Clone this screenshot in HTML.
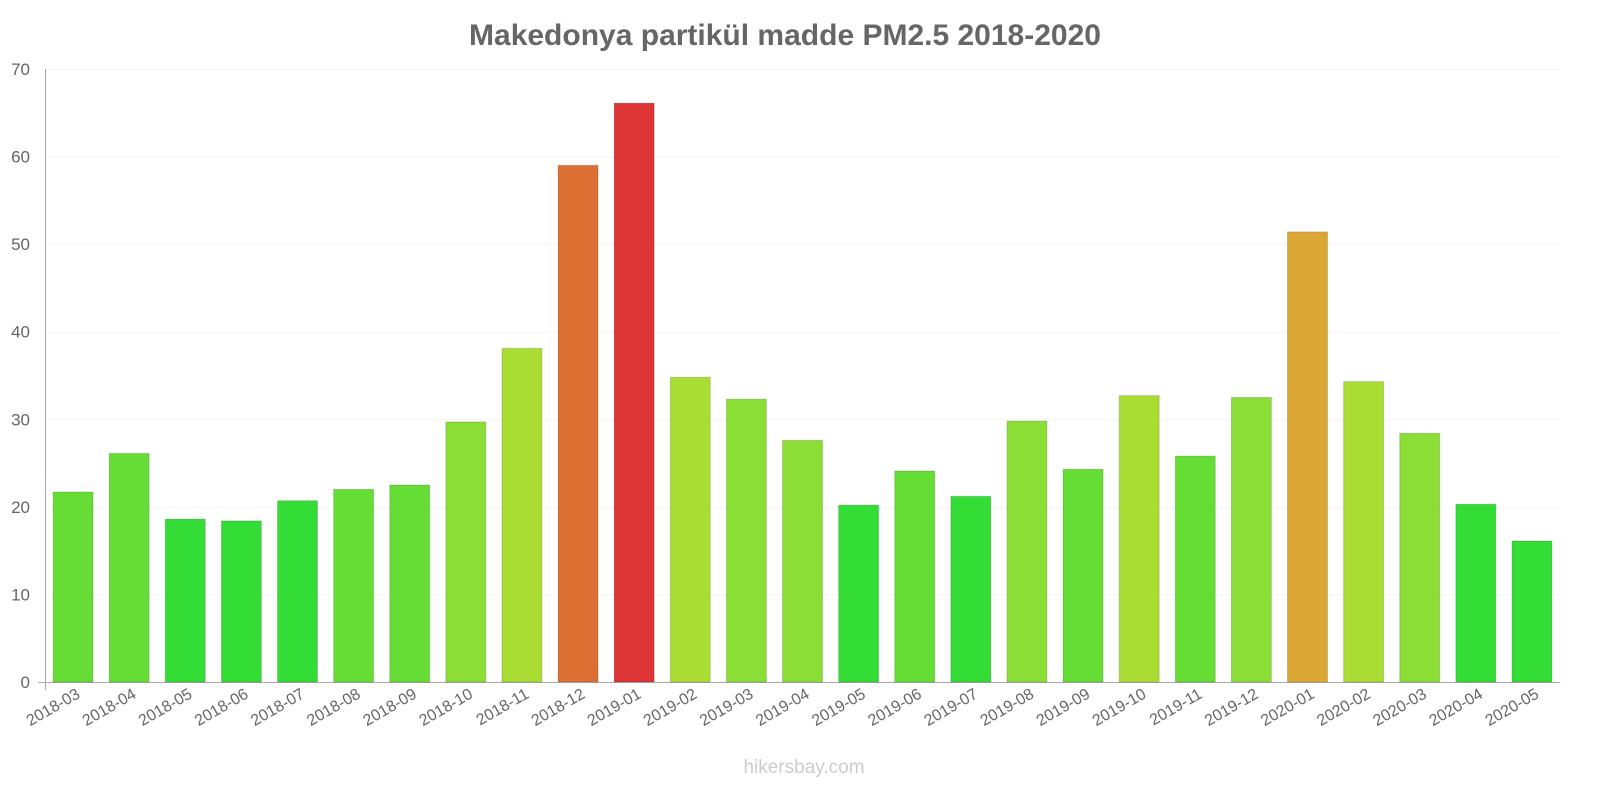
<!DOCTYPE html>
<html><head><meta charset="utf-8"><style>
body{margin:0;background:#fff;}
svg text{font-family:"Liberation Sans",sans-serif;}
</style></head><body>
<svg width="1600" height="800" xmlns="http://www.w3.org/2000/svg" id="c">
<text x="785" y="45" text-anchor="middle" font-size="30" font-weight="bold" fill="#666">Makedonya partikül madde PM2.5 2018-2020</text>
<line x1="45.5" y1="69" x2="45.5" y2="690" stroke="#aaa"/>
<line x1="38" y1="682.5" x2="1560" y2="682.5" stroke="#aaa"/>
<text x="804" y="773" text-anchor="middle" font-size="19" fill="#ccc">hikersbay.com</text>
</svg>
<script>
var ns="http://www.w3.org/2000/svg",svg=document.getElementById('c');
function el(t,a,txt){var e=document.createElementNS(ns,t);for(var k in a)e.setAttribute(k,a[k]);if(txt!=null)e.textContent=txt;svg.appendChild(e);return e;}
var y0=682,s=613/70;
for(var v=0;v<=70;v+=10){var y=y0-v*s;if(v>0)el('line',{x1:46,x2:1560,y1:y+.5,y2:y+.5,stroke:'#f3f3f3'});el('text',{x:30,y:y+6,'text-anchor':'end','font-size':17,fill:'#666'},v);}
var L=["2018-03","2018-04","2018-05","2018-06","2018-07","2018-08","2018-09","2018-10","2018-11","2018-12","2019-01","2019-02","2019-03","2019-04","2019-05","2019-06","2019-07","2019-08","2019-09","2019-10","2019-11","2019-12","2020-01","2020-02","2020-03","2020-04","2020-05"];
var V=[21.7,26.1,18.6,18.4,20.7,22.0,22.5,29.7,38.1,59.0,66.1,34.8,32.3,27.6,20.2,24.1,21.2,29.8,24.3,32.7,25.8,32.5,51.4,34.3,28.4,20.3,16.1];
function col(v){if(v>60)return'#dd3535';if(v>55)return'#dc7033';if(v>45)return'#dca835';if(v>32.6)return'#aadd33';if(v>27)return'#8ade35';if(v>21.5)return'#66dd35';return'#33dd35';}
var step=(1560-45)/27;
for(var i=0;i<27;i++){var cx=45+step*(i+0.5),h=V[i]*s,c=col(V[i]);
el('rect',{x:cx-20,y:y0-h,width:40,height:h,fill:c,stroke:'rgba(0,0,0,0.15)'});
el('text',{x:cx+8,y:697,'text-anchor':'end','font-size':16,fill:'#666',transform:'rotate(-30 '+(cx+8)+' 697)'},L[i]);}
</script>
</body></html>
